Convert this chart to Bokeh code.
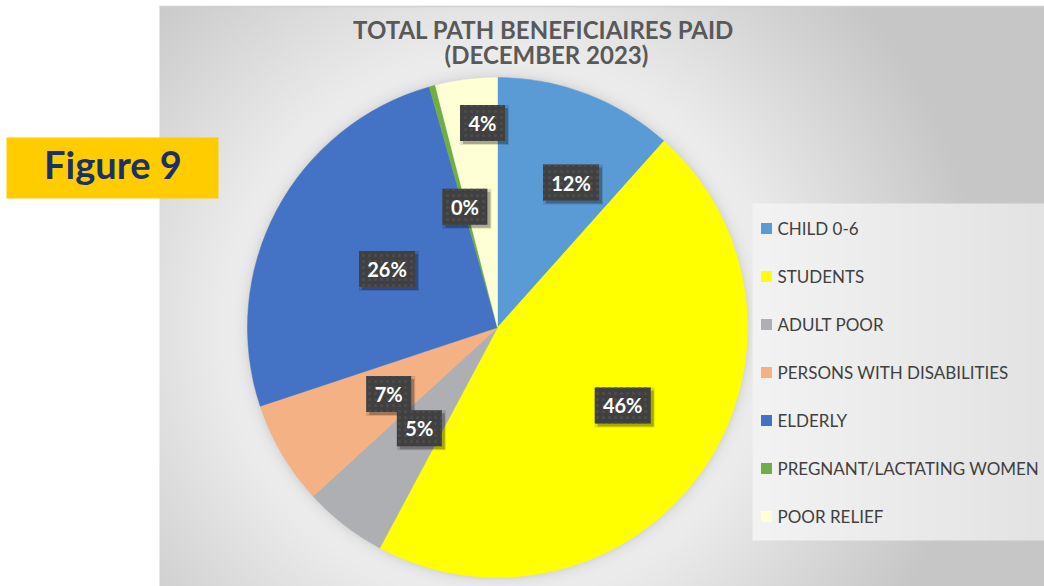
import numpy as np
from bokeh.plotting import figure
from bokeh.models import Range1d, ColumnDataSource
from bokeh.core.properties import value
from bokeh.embed import file_html
from bokeh.resources import INLINE

# ---------------- data ----------------
categories = ["CHILD 0-6", "STUDENTS", "ADULT POOR", "PERSONS WITH  DISABILITIES",
              "ELDERLY", "PREGNANT/LACTATING WOMEN", "POOR RELIEF"]
shares = [11.6, 46.2, 5.4, 6.7, 25.7, 0.4, 4.0]
colors = ["#5B9BD5", "#FFFF00", "#ADAFB2", "#F4B183", "#4472C4", "#70AD47", "#FFFFD5"]
title_lines = ["TOTAL PATH  BENEFICIAIRES PAID", "(DECEMBER 2023)"]
badge_text = "Figure 9"

# ---------------- layout (styling) ----------------
W, H = 1044, 586
cx, cy, R = 497.0, 259.0, 250.0
label_r = [0.65, 0.59, 0.51, 0.51, 0.50, 0.50, 0.82]
label_dth = [6, -3, 0, -1, 0, 0, 3]
FONT = "Lato"

p = figure(width=W, height=H, x_range=Range1d(0, W), y_range=Range1d(0, H),
           output_backend="svg", toolbar_location=None, min_border=0,
           x_axis_type=None, y_axis_type=None)
p.grid.visible = False
p.outline_line_color = None
p.background_fill_color = "white"
p.border_fill_color = "white"

# ---------------- background gradient (chart area) ----------------
ax0, atop = 159, 580
aw = W - ax0
xs = np.arange(ax0, W) + 0.5
ys = np.arange(0, atop) + 0.5
X, Y = np.meshgrid(xs, ys)
d = np.hypot(X - cx, Y - cy)
e = np.clip(d - R, 0, None)
L = 240.0 - 0.175 * e
L = np.maximum(L, 198.0)
L -= 24.0 * np.exp(-e / 6.0)
inleg = (X >= 752) & (Y >= 46) & (Y <= 383)
L = np.where(inleg, 243.0 - 16.0 * (X - 752) / 292.0, L)
L = np.clip(L, 0, 255).astype(np.uint8)
img = np.empty((atop, aw), dtype=np.uint32)
view = img.view(dtype=np.uint8).reshape((atop, aw, 4))
view[..., 0] = L
view[..., 1] = L
view[..., 2] = L
view[..., 3] = 255
p.image_rgba(image=[img], x=ax0, y=0, dw=aw, dh=atop)
p.segment(x0=[ax0], y0=[atop], x1=[W], y1=[atop], line_color="#D0D0D0", line_width=1.5)

# ---------------- pie ----------------
total = sum(shares)
fr = np.array(shares) / total
cum_end = np.cumsum(fr)
cum_start = cum_end - fr
start_angle = np.pi / 2 - 2 * np.pi * cum_end
end_angle = np.pi / 2 - 2 * np.pi * cum_start
src = ColumnDataSource(dict(start=start_angle, end=end_angle, color=colors))
p.wedge(x=cx, y=cy, radius=R, start_angle="start", end_angle="end",
        fill_color="color", line_color="color", line_width=0.5, source=src)

# ---------------- data labels ----------------
mid = (cum_start + cum_end) / 2 * 360 + np.array(label_dth)
th = np.deg2rad(mid)
lx = cx + np.array(label_r) * R * np.sin(th)
ly = cy + np.array(label_r) * R * np.cos(th)
txt = [f"{round(f * 100)}%" for f in fr]
bw = [11 * len(t) + 23 for t in txt]
lsrc = ColumnDataSource(dict(x=lx, y=ly, sx=lx + 3, sy=ly - 3, sx2=lx + 2, sy2=ly - 2,
                             w=bw, w2=[b + 4 for b in bw], t=txt))
p.rect(x="sx2", y="sy2", width="w2", height=40, width_units="screen", height_units="screen",
       fill_color="black", fill_alpha=0.12, line_color=None, source=lsrc)
p.rect(x="sx", y="sy", width="w", height=36, width_units="screen", height_units="screen",
       fill_color="black", fill_alpha=0.25, line_color=None, source=lsrc)
p.rect(x="x", y="y", width="w", height=36, width_units="screen", height_units="screen",
       fill_color="#404040", line_color=None, hatch_pattern=".", hatch_color="#4d4d4d",
       hatch_scale=6, hatch_weight=1, source=lsrc)
p.text(x="x", y="y", text="t", source=lsrc, text_font=value(FONT), text_font_style="bold",
       text_font_size="20px", text_color="white", text_align="center", text_baseline="middle")

# ---------------- title ----------------
p.text(x=[546, 546], y=[586 - 29, 586 - 54], text=title_lines,
       text_font=value(FONT), text_font_style="bold", text_font_size="24px",
       text_color="#595959", text_align="center", text_baseline="middle")

# ---------------- legend ----------------
n = len(categories)
leg_y = np.array([586 - 228 - 48 * i for i in range(n)], dtype=float)
legsrc = ColumnDataSource(dict(x=[766.0] * n, y=leg_y, tx=[777.0] * n,
                               c=colors, t=categories))
p.rect(x="x", y="y", width=11, height=11, width_units="screen", height_units="screen",
       fill_color="c", line_color=None, source=legsrc)
p.text(x="tx", y="y", text="t", source=legsrc, text_font=value(FONT),
       text_font_size="17px", text_color="#404040", text_align="left",
       text_baseline="middle")

# ---------------- Figure badge ----------------
p.quad(left=6, right=218, bottom=388, top=449, fill_color="#FFCC00", line_color=None)
p.text(x=[112.5], y=[586 - 163], text=[badge_text], text_font=value(FONT),
       text_font_style="bold", text_font_size="38px", text_color="#1B3068",
       text_align="center", text_baseline="middle")

open("out.html", "w").write(file_html(p, INLINE))
